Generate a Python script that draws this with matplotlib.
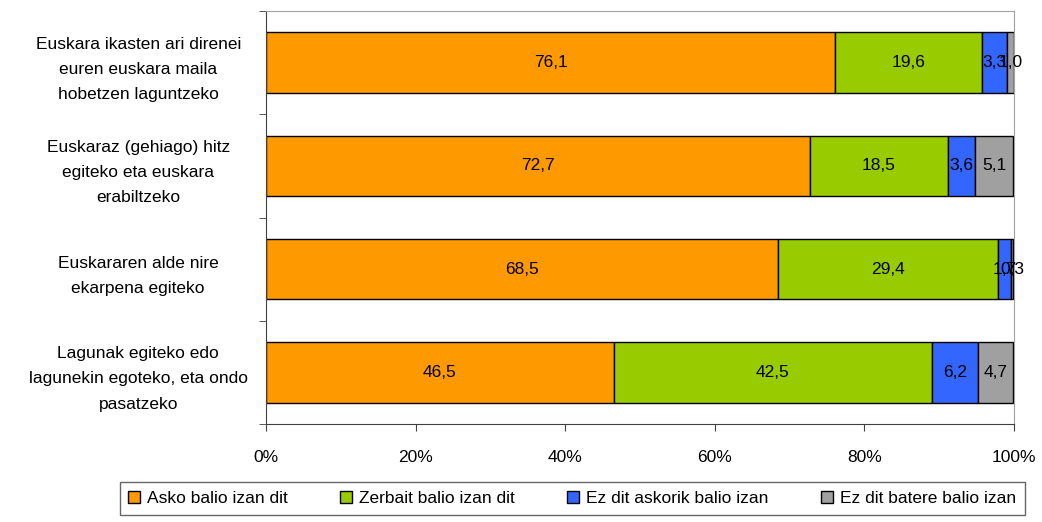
import matplotlib
matplotlib.use("Agg")
import matplotlib.pyplot as plt
import numpy as np

plt.rcParams['font.family'] = ['Liberation Sans', 'DejaVu Sans']

categories = [
    "Euskara ikasten ari direnei\neuren euskara maila\nhobetzen laguntzeko",
    "Euskaraz (gehiago) hitz\negiteko eta euskara\nerabiltzeko",
    "Euskararen alde nire\nekarpena egiteko",
    "Lagunak egiteko edo\nlagunekin egoteko, eta ondo\npasatzeko",
]
series_names = ["Asko balio izan dit", "Zerbait balio izan dit",
                "Ez dit askorik balio izan", "Ez dit batere balio izan"]
asko = [76.1, 72.7, 68.5, 46.5]
zerbait = [19.6, 18.5, 29.4, 42.5]
askorik = [3.3, 3.6, 1.7, 6.2]
batere = [1.0, 5.1, 0.3, 4.7]
labels_asko = ["76,1", "72,7", "68,5", "46,5"]
labels_zerbait = ["19,6", "18,5", "29,4", "42,5"]
labels_askorik = ["3,3", "3,6", "1,7", "6,2"]
labels_batere = ["1,0", "5,1", "0,3", "4,7"]
xticklabels = ["0%", "20%", "40%", "60%", "80%", "100%"]

colors = ["#FF9900", "#99CC00", "#3366FF", "#A0A0A0"]

fig = plt.figure(figsize=(10.42, 5.22), dpi=100)
ax = fig.add_axes([266/1042, 1-424/522, (1014-266)/1042, (424-11)/522])

y = np.arange(len(categories))
data = [asko, zerbait, askorik, batere]
labs = [labels_asko, labels_zerbait, labels_askorik, labels_batere]
left = np.zeros(len(categories))
for vals, lab, col, name in zip(data, labs, colors, series_names):
    vals = np.array(vals)
    ax.barh(y, vals, left=left, height=0.585, color=col, edgecolor="black",
            linewidth=1.0, label=name)
    for i, (v, t) in enumerate(zip(vals, lab)):
        ax.text(left[i] + v/2, y[i], t, ha="center", va="center",
                fontsize=12.5, color="black")
    left += vals

ax.set_xlim(0, 100)
ax.set_ylim(3.5, -0.5)
ax.set_xticks([0, 20, 40, 60, 80, 100])
ax.set_xticklabels(xticklabels, fontsize=12.5)
ax.tick_params(axis="x", length=5, direction="out", color="#404040", pad=14)
ax.set_yticks(y)
ax.set_yticklabels(categories, fontsize=12.5, ha="center", linespacing=1.85)
ax.tick_params(axis="y", length=0, pad=92)
ax.set_yticks([-0.5, 0.5, 1.5, 2.5, 3.5], minor=True)
ax.tick_params(axis="y", which="minor", length=5, direction="out", color="#404040")

for s in ["top", "right"]:
    ax.spines[s].set_color("#A0A0A0")
ax.spines["left"].set_color("#404040")
ax.spines["bottom"].set_color("#404040")

leg = fig.legend(loc="lower center", bbox_to_anchor=(572/1042, 7/522), ncol=4,
                 frameon=True, fancybox=False, edgecolor="#404040",
                 fontsize=12.5, handlelength=0.7, handleheight=0.7,
                 handletextpad=0.4, columnspacing=3.0, borderpad=0.5,
                 borderaxespad=0)
leg.get_frame().set_linewidth(1.0)
for h in leg.legend_handles:
    h.set_edgecolor("black")

fig.savefig("out.png", dpi=100)
